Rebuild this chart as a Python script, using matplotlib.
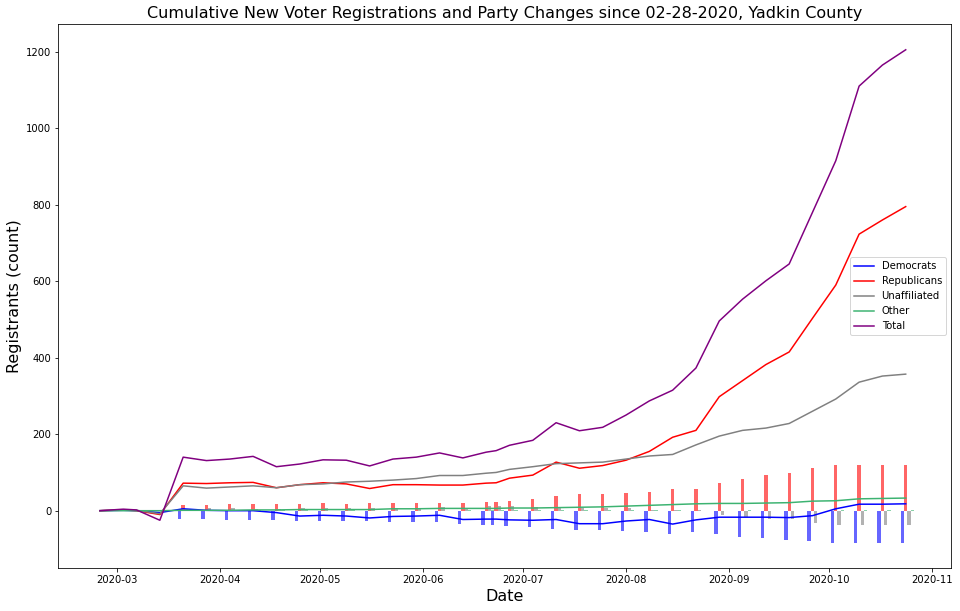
import matplotlib
matplotlib.use("Agg")
import matplotlib.pyplot as plt
import matplotlib.dates as mdates
import pandas as pd
import numpy as np

dates = ["2020-02-25", "2020-03-03", "2020-03-07", "2020-03-14", "2020-03-21", "2020-03-28",
         "2020-04-04", "2020-04-11", "2020-04-18", "2020-04-25", "2020-05-02", "2020-05-09",
         "2020-05-16", "2020-05-23", "2020-05-30", "2020-06-06", "2020-06-13", "2020-06-20",
         "2020-06-23", "2020-06-27", "2020-07-04", "2020-07-11", "2020-07-18", "2020-07-25",
         "2020-08-01", "2020-08-08", "2020-08-15", "2020-08-22", "2020-08-29", "2020-09-05",
         "2020-09-12", "2020-09-19", "2020-09-26", "2020-10-03", "2020-10-10", "2020-10-17",
         "2020-10-24"]

# cumulative new registrations
dem = [0, 1, 0, -5, 5, 1, 0, 0, -5, -14, -12, -14, -19, -15, -14, -12, -23, -22, -22, -24, -25,
       -23, -34, -34, -27, -23, -35, -24, -17, -17, -17, -18, -13, 5, 17, 17, 18]
rep = [0, 2, 0, -10, 72, 71, 73, 74, 60, 68, 73, 70, 58, 68, 68, 67, 67, 72, 73, 85, 93,
       127, 111, 118, 132, 155, 192, 210, 298, 340, 382, 415, 503, 590, 723, 760, 795]
una = [0, 2, 1, -8, 65, 59, 62, 65, 60, 68, 70, 75, 77, 80, 84, 92, 92, 98, 100, 108, 115,
       123, 125, 127, 135, 143, 147, 172, 195, 210, 216, 228, 260, 292, 336, 352, 357]
oth = [0, 0, 0, 0, 1, 1, 1, 2, 2, 3, 3, 3, 3, 5, 5, 6, 6, 6, 6, 7, 7,
       8, 9, 10, 12, 14, 16, 18, 19, 19, 20, 21, 25, 26, 31, 32, 33]
tot = [0, 4, 2, -25, 140, 131, 135, 142, 115, 122, 133, 132, 117, 135, 140, 151, 138, 153,
       157, 171, 184, 230, 209, 218, 250, 287, 315, 373, 496, 553, 601, 645, 780, 915, 1110,
       1165, 1205]

# cumulative party changes (bars)
dem_chg = [0, 0, 0, 0, -22, -22, -24, -24, -24, -27, -27, -27, -27, -29, -29, -29, -35, -37,
           -37, -40, -43, -48, -50, -50, -53, -56, -61, -55, -60, -68, -71, -76, -78, -84, -84,
           -84, -84]
rep_chg = [0, 0, 0, 0, 15, 15, 18, 18, 18, 18, 20, 18, 20, 21, 21, 21, 21, 24, 24, 26, 30,
           38, 43, 43, 46, 49, 57, 57, 72, 83, 93, 99, 111, 119, 119, 119, 119]
una_chg = [0, 0, 0, 0, 5, 7, 7, 5, 5, 7, 7, 7, 7, 8, 8, 9, 8, 12, 12, 12, 10, 8, 6, 6, 6,
           3, 2, 1, -10, -16, -21, -21, -31, -37, -37, -37, -37]
oth_chg = [0, 0, 0, 0, 1, 0, 0, 1, 1, 1, 0, 1, 0, 0, 0, 0, 1, 1, 1, 1, 1, 1, 1, 1, 1, 1, 1,
           -1, -1, 1, -1, -1, -1, 1, 1, 1, 1]

d = pd.to_datetime(dates)
x = mdates.date2num(d)

fig = plt.figure(figsize=(960 / 72, 611 / 72), dpi=72)
ax = fig.add_axes([58.3 / 960, 1 - 568.3 / 611, (951 - 58.3) / 960, (568.3 - 24.3) / 611])

w = 1.0
ax.bar(x - 1, dem_chg, width=w, color="blue", alpha=0.6)
ax.bar(x, rep_chg, width=w, color="red", alpha=0.6)
ax.bar(x + 1, una_chg, width=w, color="grey", alpha=0.6)
ax.bar(x + 2, oth_chg, width=w, color="mediumseagreen", alpha=0.6)

ax.plot(x, dem, color="blue", label="Democrats")
ax.plot(x, rep, color="red", label="Republicans")
ax.plot(x, una, color="grey", label="Unaffiliated")
ax.plot(x, oth, color="mediumseagreen", label="Other")
ax.plot(x, tot, color="purple", label="Total")

ax.xaxis.set_major_locator(mdates.MonthLocator())
ax.xaxis.set_major_formatter(mdates.DateFormatter("%Y-%m"))
x0 = mdates.date2num(pd.Timestamp("2020-03-01"))
ax.set_xlim(x0 - 17.5, x0 + 250.6)
ax.set_ylim(-150.6, 1271.6)
ax.tick_params(labelsize=10)

ax.set_title("Cumulative New Voter Registrations and Party Changes since 02-28-2020, Yadkin County",
             fontsize=16)
ax.set_xlabel("Date", fontsize=16)
ax.set_ylabel("Registrants (count)", fontsize=16)
ax.legend(loc="center right", fontsize=10)

fig.savefig("out.png", dpi=72)
